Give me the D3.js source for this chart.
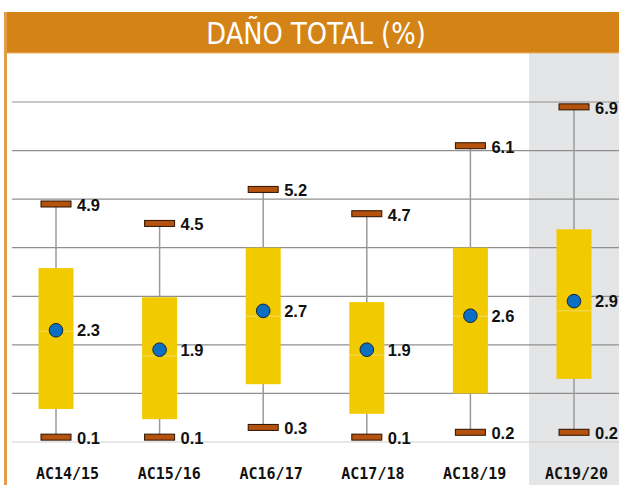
<!DOCTYPE html>
<html>
<head>
<meta charset="utf-8">
<script src="https://cdn.jsdelivr.net/npm/d3@7"></script>
<style>
  body { margin: 0; background: #fff; }
  svg { display: block; }
</style>
</head>
<body>
<div id="viz"></div>
<script>
// campaign data
const categories = ['AC14/15', 'AC15/16', 'AC16/17', 'AC17/18', 'AC18/19', 'AC19/20'];
const lowVals = [0.1, 0.1, 0.3, 0.1, 0.2, 0.2];
const highVals = [4.9, 4.5, 5.2, 4.7, 6.1, 6.9];
const q1Vals = [0.68, 0.47, 1.19, 0.58, 1.0, 1.3];
const q3Vals = [3.58, 2.98, 4.0, 2.88, 4.0, 4.38];
const medianVals = [2.28, 1.77, 2.59, 1.79, 2.59, 2.7];
const meanVals = [2.3, 1.9, 2.7, 1.9, 2.6, 2.9];
const yTicks = [0, 1, 2, 3, 4, 5, 6, 7];
const highlighted = 'AC19/20';

const width = 619, height = 485;

const rows = categories.map((c, i) => ({
  cat: c, low: lowVals[i], high: highVals[i], q1: q1Vals[i],
  q3: q3Vals[i], median: medianVals[i], mean: meanVals[i]
}));

const svg = d3.select('#viz').append('svg')
  .attr('width', width)
  .attr('height', height);

const x = d3.scaleBand().domain(categories).range([4.2, 625.8]);
const xLab = d3.scaleBand().domain(categories).range([16.6, 627.4]);
const y = d3.scaleLinear().domain([0, 7]).range([442, 102]);

// highlighted column background
svg.append('rect')
  .attr('x', x(highlighted) + 6.8)
  .attr('y', 53)
  .attr('width', width - x(highlighted) - 6.8)
  .attr('height', height - 53)
  .attr('fill', '#e4e5e7');

// header band
svg.append('rect')
  .attr('x', 4).attr('y', 12)
  .attr('width', width - 4).attr('height', 41)
  .attr('fill', '#d48317');
svg.append('line')
  .attr('x1', 4).attr('x2', width)
  .attr('y1', 53).attr('y2', 53)
  .attr('stroke', '#eab06a').attr('stroke-width', 1);
svg.append('text')
  .attr('transform', 'translate(316,44) scale(0.86,1)')
  .attr('text-anchor', 'middle')
  .attr('fill', '#fff')
  .style('font-family', '"DejaVu Sans", sans-serif')
  .style('font-size', '30px')
  .text('DAÑO TOTAL (%)');

// left border
svg.append('line')
  .attr('x1', 5.5).attr('x2', 5.5)
  .attr('y1', 12).attr('y2', height)
  .attr('stroke', '#e39c48').attr('stroke-width', 3);

// gridlines
svg.append('g')
  .selectAll('line')
  .data(yTicks)
  .join('line')
  .attr('x1', 12).attr('x2', width)
  .attr('y1', d => y(d)).attr('y2', d => y(d))
  .attr('stroke', d => d === 0 ? '#cfcfcf' : '#8f8f8f')
  .attr('stroke-width', 1.2);

const g = svg.append('g');
const cx = d => x(d.cat) + x.bandwidth() / 2;
const boxW = 35;
const labFont = '"Liberation Sans", Arial, sans-serif';

// whiskers
g.selectAll('.whisker')
  .data(rows)
  .join('line')
  .attr('x1', cx).attr('x2', cx)
  .attr('y1', d => y(d.low)).attr('y2', d => y(d.high))
  .attr('stroke', '#9a9a9a')
  .attr('stroke-width', 1.5);

// boxes
g.selectAll('.box')
  .data(rows)
  .join('rect')
  .attr('x', d => cx(d) - boxW / 2)
  .attr('y', d => y(d.q3))
  .attr('width', boxW)
  .attr('height', d => y(d.q1) - y(d.q3))
  .attr('fill', '#f2ca00');

// faint median line
g.selectAll('.median')
  .data(rows)
  .join('line')
  .attr('x1', d => cx(d) - boxW / 2).attr('x2', d => cx(d) + boxW / 2)
  .attr('y1', d => y(d.median)).attr('y2', d => y(d.median))
  .attr('stroke', '#f6da63')
  .attr('stroke-width', 1);

// caps for min and max
['low', 'high'].forEach(k => {
  g.selectAll('.cap-' + k)
    .data(rows)
    .join('rect')
    .attr('x', d => cx(d) - 15)
    .attr('y', d => y(d[k]) - 3)
    .attr('width', 30)
    .attr('height', 6)
    .attr('fill', '#b5530e')
    .attr('stroke', '#2b1200')
    .attr('stroke-width', 1);

  g.selectAll('.lab-' + k)
    .data(rows)
    .join('text')
    .attr('x', d => cx(d) + 21)
    .attr('y', d => y(d[k]) + 7)
    .style('font-family', labFont)
    .style('font-weight', 'bold')
    .style('font-size', '16.5px')
    .attr('fill', '#111')
    .text(d => d[k].toFixed(1));
});

// mean points
g.selectAll('.mean')
  .data(rows)
  .join('circle')
  .attr('cx', cx)
  .attr('cy', d => y(d.mean))
  .attr('r', 6.8)
  .attr('fill', '#0b6fc4')
  .attr('stroke', '#15253a')
  .attr('stroke-width', 1);

g.selectAll('.mean-lab')
  .data(rows)
  .join('text')
  .attr('x', d => cx(d) + 21)
  .attr('y', d => y(d.mean) + 6)
  .style('font-family', labFont)
  .style('font-weight', 'bold')
  .style('font-size', '16.5px')
  .attr('fill', '#111')
  .text(d => d.mean.toFixed(1));

// category labels
svg.append('g')
  .selectAll('text')
  .data(categories)
  .join('text')
  .attr('x', d => xLab(d) + xLab.bandwidth() / 2)
  .attr('y', 479)
  .attr('text-anchor', 'middle')
  .style('font-family', '"DejaVu Sans Mono", monospace')
  .style('font-weight', 'bold')
  .style('font-size', '15px')
  .attr('fill', '#111')
  .text(d => d);
</script>
</body>
</html>
